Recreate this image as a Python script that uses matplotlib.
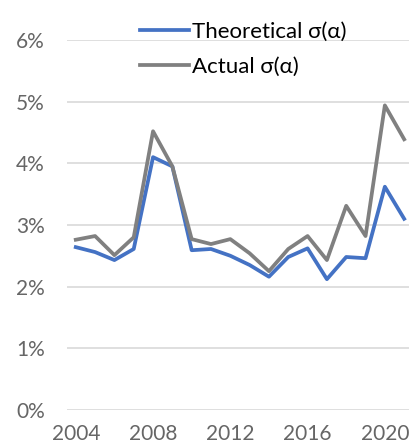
import matplotlib
matplotlib.use("Agg")
import matplotlib.pyplot as plt
from matplotlib.ticker import PercentFormatter

# yearly values (in %)
years = list(range(2004, 2022))
theoretical = [2.64, 2.56, 2.43, 2.61, 4.10, 3.95, 2.59, 2.61, 2.50, 2.35,
               2.16, 2.48, 2.62, 2.12, 2.48, 2.46, 3.62, 3.10]
actual = [2.76, 2.82, 2.51, 2.80, 4.52, 3.95, 2.77, 2.69, 2.77, 2.54,
          2.25, 2.61, 2.82, 2.43, 3.31, 2.82, 4.94, 4.39]
xticks = [2004, 2008, 2012, 2016, 2020]

plt.rcParams["font.family"] = ["Lato", "DejaVu Sans"]

fig = plt.figure(figsize=(4.09, 4.45), dpi=100)
ax = fig.add_axes([0.164, 0.079, 0.836, 0.831])

ax.plot(years, theoretical, color="#4472C4", lw=2.7, label="Theoretical σ(α)")
ax.plot(years, actual, color="#808080", lw=2.7, label="Actual σ(α)")

ax.set_ylim(0, 6)
ax.set_xlim(2003.55, 2021.25)
ax.set_yticks(range(0, 7))
ax.yaxis.set_major_formatter(PercentFormatter(decimals=0))
ax.set_xticks(xticks)
ax.grid(axis="y", color="#d9d9d9", lw=1.2)
ax.set_axisbelow(True)
for s in ax.spines.values():
    s.set_visible(False)
ax.tick_params(length=0, labelsize=15, labelcolor="#666666")
ax.tick_params(axis="y", pad=16)
ax.tick_params(axis="x", pad=10)

fig.legend(loc="upper left", bbox_to_anchor=(0.293, 0.995), frameon=False,
           fontsize=16, handlelength=2.2, labelspacing=0.65, handletextpad=0.15)

fig.savefig("out.png", dpi=100)
